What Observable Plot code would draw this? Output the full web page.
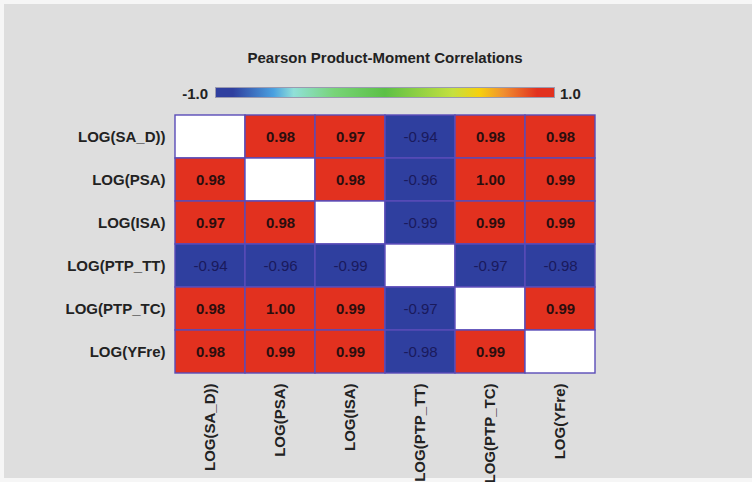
<!DOCTYPE html>
<html>
<head>
<meta charset="utf-8">
<script src="https://cdn.jsdelivr.net/npm/d3@7"></script>
<script src="https://cdn.jsdelivr.net/npm/@observablehq/plot@0.6"></script>
<style>
  body { margin: 0; background: #f6f6f6; font-family: "Liberation Sans", Arial, sans-serif; }
  #wrap { position: relative; width: 752px; height: 482px; overflow: hidden; }
  #bg { position: absolute; left: 4px; top: 4px; right: 0; bottom: 4px; background: #dedede; }
  #chart { position: absolute; left: 0; top: 0; }
  .t { position: absolute; font-weight: bold; font-size: 15px; line-height: 15px; color: #222; white-space: nowrap; }
  #ramp { position: absolute; left: 215px; top: 87px; width: 338px; height: 9px; border: 1px solid #9a9ab0; }
</style>
</head>
<body>
<div id="wrap">
  <div id="bg"></div>
  <div id="chart"></div>
  <div class="t" id="title" style="left:0;width:770px;text-align:center;top:50px;">Pearson Product-Moment Correlations</div>
  <div class="t" id="lmin" style="left:160px;width:48px;text-align:right;top:86px;"></div>
  <div id="ramp"></div>
  <div class="t" id="lmax" style="left:560px;top:86px;"></div>
</div>
<script>
// ---- data ----
const variables = ["LOG(SA_D))", "LOG(PSA)", "LOG(ISA)", "LOG(PTP_TT)", "LOG(PTP_TC)", "LOG(YFre)"];
const rowSA_D   = [null, 0.98, 0.97, -0.94, 0.98, 0.98];
const rowPSA    = [0.98, null, 0.98, -0.96, 1.00, 0.99];
const rowISA    = [0.97, 0.98, null, -0.99, 0.99, 0.99];
const rowPTP_TT = [-0.94, -0.96, -0.99, null, -0.97, -0.98];
const rowPTP_TC = [0.98, 1.00, 0.99, -0.97, null, 0.99];
const rowYFre   = [0.98, 0.99, 0.99, -0.98, 0.99, null];
const legendLabels = ["-1.0", "1.0"];
const colorDomain = [-1, -0.9, -0.66, -0.54, -0.3, 0, 0.4, 0.56, 0.7, 0.9, 1];
const colorRange  = ["#2f3f9f", "#2f3f9f", "#4aa0e0", "#90e0d8", "#78d478", "#5cc046", "#c4e040", "#f6d00e", "#f09030", "#e2311f", "#e2311f"];

// ---- build table ----
const rows = [rowSA_D, rowPSA, rowISA, rowPTP_TT, rowPTP_TC, rowYFre];
const table = [];
rows.forEach((r, i) => r.forEach((v, j) => table.push({row: variables[i], col: variables[j], value: v})));

const color = d3.scaleLinear().domain(colorDomain).range(colorRange);

const W = 752, H = 482;
const plot = Plot.plot({
  width: W,
  height: H,
  marginLeft: 174,
  marginRight: 156,
  marginTop: 112,
  marginBottom: 107,
  style: { background: "transparent", fontFamily: "'Liberation Sans', Arial, sans-serif" },
  x: { domain: variables, padding: 0, axis: null },
  y: { domain: variables, padding: 0, axis: null },
  marks: [
    Plot.cell(table, {
      x: "col", y: "row",
      fill: d => d.value == null ? "#ffffff" : color(d.value),
      stroke: "#5a4cb8", strokeWidth: 1.4
    }),
    Plot.text(table.filter(d => d.value != null && d.value > 0), {
      x: "col", y: "row", text: d => d.value.toFixed(2),
      fill: "#2a0e0e", fontSize: 15, fontWeight: "bold"
    }),
    Plot.text(table.filter(d => d.value != null && d.value < 0), {
      x: "col", y: "row", text: d => d.value.toFixed(2),
      fill: "#1a1a5c", fontSize: 15
    }),
    Plot.axisY({ tickSize: 0, tickPadding: 9, fontSize: 15, fontWeight: "bold", fill: "#222", label: null }),
    Plot.axisX({ anchor: "bottom", tickSize: 0, tickPadding: 8, tickRotate: -90, fontSize: 15, fontWeight: "bold", fill: "#222", label: null })
  ]
});
document.getElementById("chart").appendChild(plot);

// legend
const stops = colorDomain.map((d, i) => `${colorRange[i]} ${((d + 1) / 2 * 100).toFixed(1)}%`).join(", ");
document.getElementById("ramp").style.background = `linear-gradient(to right, ${stops})`;
document.getElementById("lmin").textContent = legendLabels[0];
document.getElementById("lmax").textContent = legendLabels[1];
</script>
</body>
</html>
